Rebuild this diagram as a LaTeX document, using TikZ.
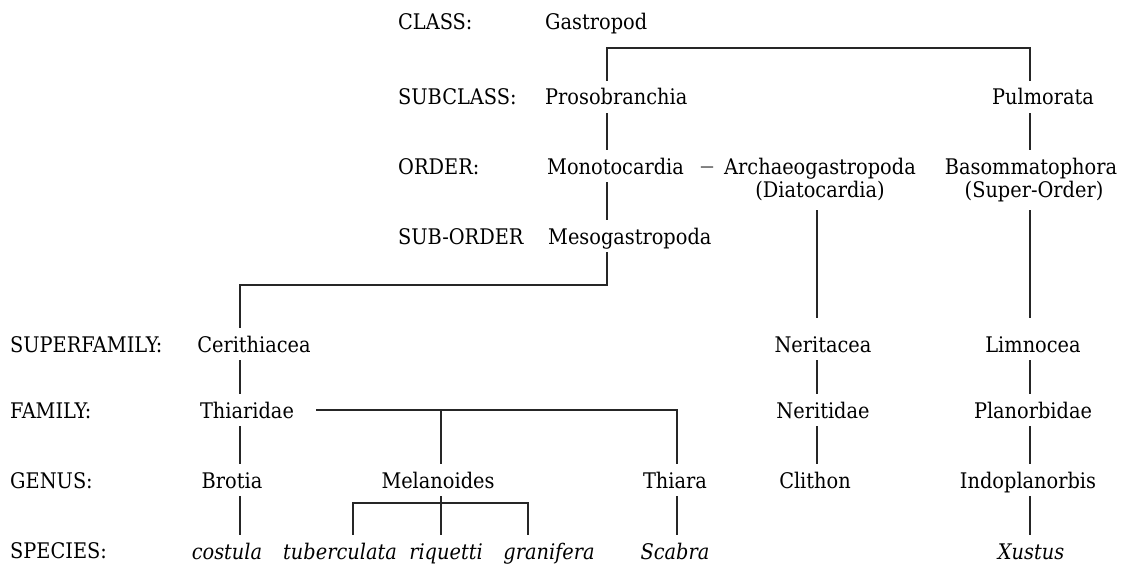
\documentclass[tikz,border=0pt]{standalone}
\usepackage{fontspec}
\setmainfont{DejaVu Serif Condensed}
\newcommand\dfs{\fontsize{21.5}{24}\selectfont}
\begin{document}
\begin{tikzpicture}[x=1pt,y=-1pt,
  lbl/.style={anchor=base west, inner sep=0pt, font=\dfs},
  tx/.style={anchor=base, text height=20pt, text depth=4pt, inner ysep=4pt, inner xsep=4pt, font=\dfs},
  sp/.style={tx, font=\dfs\itshape},
  ln/.style={line width=1.2pt, draw=black!85}]
\fill[white] (0,0) rectangle (1129,567);
\useasboundingbox (0,0) rectangle (1129,567);
% rank labels
\node[lbl] (lclass) at (398,30) {CLASS:};
\node[lbl] (lsub) at (398,105) {SUBCLASS:};
\node[lbl] (lord) at (398,174) {ORDER:};
\node[lbl] (lsubord) at (398,244) {SUB-ORDER};
\node[lbl] (lsup) at (10,352) {SUPERFAMILY:};
\node[lbl] (lfam) at (10,418) {FAMILY:};
\node[lbl] (lgen) at (10,488) {GENUS:};
\node[lbl] (lspe) at (10,558) {SPECIES:};
% taxa
\node[tx, anchor=base west] (gas) at (541,30) {Gastropod};
\node[tx, anchor=base west] (pro) at (541,105) {Prosobranchia};
\node[tx] (pul) at (1043,105) {Pulmorata};
\node[tx, anchor=base west] (mono) at (543,174) {Monotocardia};
\node[tx] (dash) at (707,174) {{\fontsize{15}{18}\selectfont\raisebox{2pt}{—}}};
\node[tx] (arch) at (820,174) {Archaeogastropoda};
\node[tx] (diat) at (820,197) {(Diatocardia)};
\node[tx] (baso) at (1031,174) {Basommatophora};
\node[tx] (super) at (1034,197) {(Super-Order)};
\node[tx, anchor=base west] (meso) at (544,244) {Mesogastropoda};
\node[tx] (ceri) at (254,352) {Cerithiacea};
\node[tx] (nerc) at (823,352) {Neritacea};
\node[tx] (lim) at (1033,352) {Limnocea};
\node[tx] (thid) at (247,418) {Thiaridae};
\node[tx] (nerd) at (823,418) {Neritidae};
\node[tx] (plan) at (1033,418) {Planorbidae};
\node[tx] (bro) at (232,488) {Brotia};
\node[tx] (mel) at (438,488) {Melanoides};
\node[tx] (thia) at (675,488) {Thiara};
\node[tx] (cli) at (815,488) {Clithon};
\node[tx] (indo) at (1028,488) {Indoplanorbis};
\node[sp] (cos) at (227,559) {costula};
\node[sp] (tub) at (340,559) {tuberculata};
\node[sp] (riq) at (446,559) {riquetti};
\node[sp] (gra) at (549,559) {granifera};
\node[sp] (sca) at (675,559) {Scabra};
\node[sp] (xus) at (1031,559) {Xustus};
% connector guide coordinates
\coordinate (trunk) at (607,48);
\coordinate (rcol) at (1030,48);
\coordinate (acol) at (817,0);
\coordinate (lbar) at (240,285);
\coordinate (melx) at (441,0);
\coordinate (thiax) at (677,0);
\coordinate (sbar) at (441,503);
\coordinate (tubx) at (353,0);
\coordinate (grax) at (528,0);
% connectors
\draw[ln] (pro.north -| trunk) -- (trunk) -- (rcol) -- (pul.north -| rcol);
\draw[ln] (pro.south -| trunk) -- (mono.north -| trunk);
\draw[ln] (mono.south -| trunk) -- (meso.north -| trunk);
\draw[ln] (meso.south -| trunk) -- (trunk |- lbar) -- (lbar) -- (ceri.north -| lbar);
\draw[ln] (pul.south -| rcol) -- (baso.north -| rcol);
\draw[ln, shorten <=5pt, shorten >=10pt] (super.south -| rcol) -- (lim.north -| rcol);
\draw[ln, shorten <=5pt, shorten >=10pt] (diat.south -| acol) -- (nerc.north -| acol);
\draw[ln] (nerc.south -| acol) -- (nerd.north -| acol);
\draw[ln] (nerd.south -| acol) -- (cli.north -| acol);
\draw[ln] (lim.south -| rcol) -- (plan.north -| rcol);
\draw[ln] (plan.south -| rcol) -- (indo.north -| rcol);
\draw[ln] (indo.south -| rcol) -- (xus.north -| rcol);
\draw[ln] (ceri.south -| lbar) -- (thid.north -| lbar);
\draw[ln] (thid.south -| lbar) -- (bro.north -| lbar);
\draw[ln] (bro.south -| lbar) -- (cos.north -| lbar);
\draw[ln] ([xshift=18pt]thid.east) -| (thia.north -| thiax);
\draw[ln] (melx |- thid.east) -- (mel.north -| melx);
\draw[ln] (thia.south -| thiax) -- (sca.north -| thiax);
\draw[ln] (mel.south -| melx) -- (riq.north -| melx);
\draw[ln] (tub.north -| tubx) -- (tubx |- sbar) -- (grax |- sbar) -- (gra.north -| grax);
\end{tikzpicture}
\end{document}
